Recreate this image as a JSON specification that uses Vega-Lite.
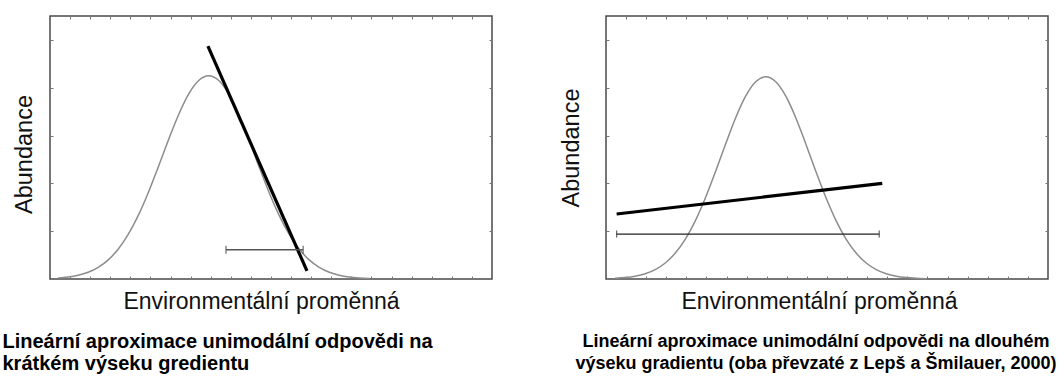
{
  "$schema": "https://vega.github.io/schema/vega-lite/v6.json",
  "background": "white",
  "padding": {"left": 1, "top": 14, "right": 5, "bottom": 0},
  "spacing": 64,
  "config": {
    "view": {"stroke": "#4a4a4a", "strokeWidth": 1.5},
    "font": "Liberation Sans",
    "axis": {
      "grid": false,
      "labels": false,
      "domain": false,
      "tickSize": -3,
      "tickColor": "#777",
      "tickWidth": 1,
      "titleFont": "Liberation Sans",
      "titleFontSize": 23,
      "titleFontWeight": "normal",
      "titleColor": "#111"
    }
  },
  "datasets": {
    "curveA": [
      {"x": 0.4, "y": 0.021}, {"x": 0.9, "y": 0.041}, {"x": 1.4, "y": 0.078}, {"x": 1.9, "y": 0.142},
      {"x": 2.4, "y": 0.244}, {"x": 2.9, "y": 0.4}, {"x": 3.4, "y": 0.627}, {"x": 3.9, "y": 0.937},
      {"x": 4.4, "y": 1.335}, {"x": 4.9, "y": 1.815}, {"x": 5.4, "y": 2.354}, {"x": 5.9, "y": 2.912},
      {"x": 6.4, "y": 3.436}, {"x": 6.9, "y": 3.867}, {"x": 7.4, "y": 4.151}, {"x": 7.9, "y": 4.25},
      {"x": 8.4, "y": 4.151}, {"x": 8.9, "y": 3.867}, {"x": 9.4, "y": 3.436}, {"x": 9.9, "y": 2.912},
      {"x": 10.4, "y": 2.354}, {"x": 10.9, "y": 1.815}, {"x": 11.4, "y": 1.335}, {"x": 11.9, "y": 0.937},
      {"x": 12.4, "y": 0.627}, {"x": 12.9, "y": 0.4}, {"x": 13.4, "y": 0.244}, {"x": 13.9, "y": 0.142},
      {"x": 14.4, "y": 0.078}, {"x": 14.9, "y": 0.041}, {"x": 15.4, "y": 0.021}, {"x": 15.9, "y": 0.01}
    ],
    "curveB": [
      {"x": 0.45, "y": 0.014}, {"x": 0.95, "y": 0.029}, {"x": 1.45, "y": 0.058}, {"x": 1.95, "y": 0.11},
      {"x": 2.45, "y": 0.197}, {"x": 2.95, "y": 0.335}, {"x": 3.45, "y": 0.542}, {"x": 3.95, "y": 0.835},
      {"x": 4.45, "y": 1.221}, {"x": 4.95, "y": 1.698}, {"x": 5.45, "y": 2.244}, {"x": 5.95, "y": 2.819},
      {"x": 6.45, "y": 3.367}, {"x": 6.95, "y": 3.822}, {"x": 7.45, "y": 4.124}, {"x": 7.95, "y": 4.23},
      {"x": 8.45, "y": 4.124}, {"x": 8.95, "y": 3.822}, {"x": 9.45, "y": 3.367}, {"x": 9.95, "y": 2.819},
      {"x": 10.45, "y": 2.244}, {"x": 10.95, "y": 1.698}, {"x": 11.45, "y": 1.221}, {"x": 11.95, "y": 0.835},
      {"x": 12.45, "y": 0.542}, {"x": 12.95, "y": 0.335}, {"x": 13.45, "y": 0.197}, {"x": 13.95, "y": 0.11},
      {"x": 14.45, "y": 0.058}, {"x": 14.95, "y": 0.029}, {"x": 15.45, "y": 0.014}, {"x": 15.95, "y": 0.006}
    ],
    "fitA": [{"x": 7.86, "y": 4.87}, {"x": 12.79, "y": 0.17}],
    "fitB": [{"x": 0.53, "y": 1.36}, {"x": 13.75, "y": 2.0}],
    "rangeA": [{"x1": 8.76, "x2": 12.6, "y": 0.61}],
    "rangeB": [{"x1": 0.53, "x2": 13.6, "y": 0.94}],
    "capsA": [{"x": 8.76, "y": 0.61}, {"x": 12.6, "y": 0.61}],
    "capsB": [{"x": 0.53, "y": 0.94}, {"x": 13.6, "y": 0.94}]
  },
  "hconcat": [
    {
      "width": 442,
      "height": 263,
      "title": {
        "text": ["Lineární aproximace unimodální odpovědi na", "krátkém výseku gredientu"],
        "orient": "bottom",
        "anchor": "start",
        "frame": "bounds",
        "dx": -10,
        "offset": 18,
        "font": "Liberation Sans",
        "fontSize": 20,
        "fontWeight": "bold",
        "color": "#000",
        "lineHeight": 22
      },
      "layer": [
        {
          "data": {"name": "curveA"},
          "mark": {"type": "line", "color": "#8c8c8c", "strokeWidth": 1.5, "interpolate": "monotone"},
          "encoding": {
            "x": {"field": "x", "type": "quantitative", "title": "Environmentální proměnná", "scale": {"domain": [0, 22], "nice": false},
                  "axis": {"orient": "bottom", "values": [1,2,3,4,5,6,7,8,9,10,11,12,13,14,15,16,17,18,19,20,21], "titlePadding": 11, "titleX": 211}},
            "y": {"field": "y", "type": "quantitative", "title": "Abundance", "scale": {"domain": [0, 5.5], "nice": false},
                  "axis": {"orient": "left", "values": [1,2,3,4,5], "titlePadding": 13, "titleY": 138, "titleFontSize": 23.5}}
          }
        },
        {
          "data": {"name": "fitA"},
          "mark": {"type": "line", "color": "#000", "strokeWidth": 3.2},
          "encoding": {
            "x": {"field": "x", "type": "quantitative", "title": null, "axis": {"orient": "top", "title": null, "values": [1,2,3,4,5,6,7,8,9,10,11,12,13,14,15,16,17,18,19,20,21]}},
            "y": {"field": "y", "type": "quantitative", "title": null, "axis": {"orient": "right", "title": null, "values": [1,2,3,4,5]}}
          }
        },
        {
          "data": {"name": "rangeA"},
          "mark": {"type": "rule", "color": "#555", "strokeWidth": 1.5},
          "encoding": {
            "x": {"field": "x1", "type": "quantitative", "title": null, "axis": null},
            "x2": {"field": "x2"},
            "y": {"field": "y", "type": "quantitative", "title": null, "axis": null}
          }
        },
        {
          "data": {"name": "capsA"},
          "mark": {"type": "tick", "orient": "vertical", "color": "#555", "size": 8, "thickness": 1.5},
          "encoding": {
            "x": {"field": "x", "type": "quantitative", "title": null, "axis": null},
            "y": {"field": "y", "type": "quantitative", "title": null, "axis": null}
          }
        }
      ]
    },
    {
      "width": 442,
      "height": 263,
      "title": {
        "text": ["Lineární aproximace unimodální odpovědi na dlouhém", "výseku gradientu (oba převzaté z Lepš a Šmilauer, 2000)"],
        "orient": "bottom",
        "anchor": "middle",
        "frame": "group",
        "dx": -11,
        "offset": 19,
        "font": "Liberation Sans",
        "fontSize": 18,
        "fontWeight": "bold",
        "color": "#000",
        "lineHeight": 22
      },
      "layer": [
        {
          "data": {"name": "curveB"},
          "mark": {"type": "line", "color": "#8c8c8c", "strokeWidth": 1.5, "interpolate": "monotone"},
          "encoding": {
            "x": {"field": "x", "type": "quantitative", "title": "Environmentální proměnná", "scale": {"domain": [0, 22], "nice": false},
                  "axis": {"orient": "bottom", "values": [1,2,3,4,5,6,7,8,9,10,11,12,13,14,15,16,17,18,19,20,21], "titlePadding": 11, "titleX": 213}},
            "y": {"field": "y", "type": "quantitative", "title": "Abundance", "scale": {"domain": [0, 5.5], "nice": false},
                  "axis": {"orient": "left", "values": [1,2,3,4,5], "titlePadding": 22, "titleFontSize": 23.5}}
          }
        },
        {
          "data": {"name": "fitB"},
          "mark": {"type": "line", "color": "#000", "strokeWidth": 3.2},
          "encoding": {
            "x": {"field": "x", "type": "quantitative", "title": null, "axis": {"orient": "top", "title": null, "values": [1,2,3,4,5,6,7,8,9,10,11,12,13,14,15,16,17,18,19,20,21]}},
            "y": {"field": "y", "type": "quantitative", "title": null, "axis": {"orient": "right", "title": null, "values": [1,2,3,4,5]}}
          }
        },
        {
          "data": {"name": "rangeB"},
          "mark": {"type": "rule", "color": "#222", "strokeWidth": 1.2},
          "encoding": {
            "x": {"field": "x1", "type": "quantitative", "title": null, "axis": null},
            "x2": {"field": "x2"},
            "y": {"field": "y", "type": "quantitative", "title": null, "axis": null}
          }
        },
        {
          "data": {"name": "capsB"},
          "mark": {"type": "tick", "orient": "vertical", "color": "#222", "size": 7, "thickness": 1.2},
          "encoding": {
            "x": {"field": "x", "type": "quantitative", "title": null, "axis": null},
            "y": {"field": "y", "type": "quantitative", "title": null, "axis": null}
          }
        }
      ]
    }
  ]
}
